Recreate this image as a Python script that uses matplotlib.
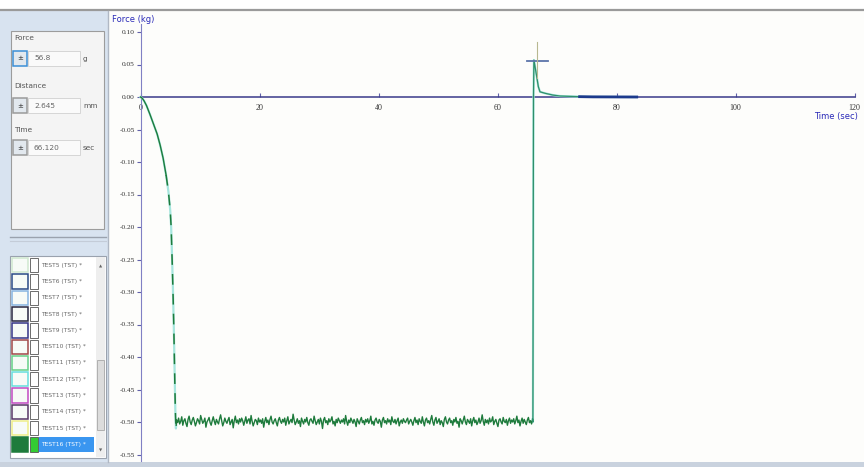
import matplotlib
matplotlib.use("Agg")
import matplotlib.patches as patches
import matplotlib.pyplot as plt
import numpy as np

# --- data (time in sec, force in kg) ---
descent_time = [0.0, 0.3, 0.6, 1.0, 1.6, 2.2, 2.8, 3.3, 3.8, 4.3, 4.7,
                5.0, 5.15, 5.3, 5.45, 5.6, 5.75, 5.85, 5.95, 6.0]
descent_force = [0.0, -0.002, -0.006, -0.013, -0.027, -0.042, -0.057,
                 -0.074, -0.094, -0.12, -0.146, -0.175, -0.2, -0.245,
                 -0.295, -0.355, -0.43, -0.48, -0.51, -0.505]

plateau_start = 6.05
plateau_end = 65.9
plateau_force_g = [
    -497, -501, -494, -503, -499, -492, -505, -498, -495, -502, -507, -496, -491, -500, -504, -497, -493, -499, -506, -501,
    -495, -498, -503, -490, -496, -502, -499, -494, -508, -500, -497, -493, -501, -505, -498, -492, -499, -504, -496, -500,
    -503, -495, -489, -498, -506, -501, -494, -499, -502, -497, -493, -504, -500, -496, -509, -498, -491, -501, -497, -503,
    -495, -500, -494, -498, -505, -499, -492, -502, -497, -495, -503, -490, -499, -506, -501, -496, -498, -504, -494, -500,
    -497, -502, -495, -508, -499, -493, -501, -497, -504, -496, -491, -500, -503, -498, -495, -501, -506, -497, -493, -499,
    -502, -496, -500, -494, -505, -498, -492, -503, -499, -496, -501, -488, -497, -504, -500, -495, -502, -498, -507, -494,
    -499, -503, -496, -500, -493, -501, -505, -497, -495, -499, -502, -491, -498, -504, -500, -496, -503, -494, -499, -510,
    -497, -493, -501, -498, -504, -495, -500, -497, -492, -503, -499, -506, -496, -501, -494, -498, -502, -497, -500, -495,
    -503, -490, -499, -505, -497, -501, -494, -498, -502, -496, -500, -507, -495, -499, -503, -497, -493, -501, -498, -504,
    -496, -500, -495, -502, -498, -491, -503, -499, -505, -497, -494, -500, -502, -496, -499, -508, -497, -493, -501, -498,
    -503, -495, -500, -497, -504, -492, -499, -501, -496, -503, -498, -494, -506, -500, -497, -502, -495, -499, -501, -497,
    -494, -503, -499, -496, -500, -505, -498, -493, -501, -497, -504, -495, -499, -502, -492, -500, -506, -497, -494, -501,
    -498, -503, -496, -490, -500, -505, -497, -493, -502, -499, -495, -504, -498, -501, -507, -496, -492, -500, -503, -497,
    -494, -501, -498, -505, -496, -500, -493, -502, -499, -508, -495, -498, -503, -497, -491, -500, -504, -496, -499, -502,
    -495, -506, -498, -493, -501, -497, -504, -500, -494, -502, -498, -489, -499, -505, -496, -501, -497, -503, -494, -500,
    -498, -492, -504, -499, -496, -502, -507, -497, -495, -500, -503, -493, -499, -501, -496, -505, -498, -494, -502, -497,
    -500, -495, -503, -498, -491, -501, -497, -506, -499, -494, -502, -496, -500, -504, -497, -493, -501, -498, -503, -496,
]

recovery_time = [65.95, 66.0, 66.05, 66.12, 66.6, 66.86, 67.14, 68.0,
                 69.3, 70.5, 73.8, 76.0, 83.4]
recovery_force = [-0.5, -0.25, 0.0, 0.0568, 0.031, 0.016, 0.008, 0.0057,
                  0.003, 0.0015, 0.0005, 0.0002, 0.0]

cursor_time = 66.120
cursor_force = 0.0568

y_ticks = [0.10, 0.05, 0.00, -0.05, -0.10, -0.15, -0.20, -0.25, -0.30,
           -0.35, -0.40, -0.45, -0.50, -0.55]
x_ticks = [0, 20, 40, 60, 80, 100, 120]

readout_labels = ["Force", "Distance", "Time"]
readout_values = ["56.8", "2.645", "66.120"]
readout_units = ["g", "mm", "sec"]

test_names = ["TEST5 (TST) *", "TEST6 (TST) *", "TEST7 (TST) *",
              "TEST8 (TST) *", "TEST9 (TST) *", "TEST10 (TST) *",
              "TEST11 (TST) *", "TEST12 (TST) *", "TEST13 (TST) *",
              "TEST14 (TST) *", "TEST15 (TST) *", "TEST16 (TST) *"]
test_colors = ["#cfe8cf", "#2a4a86", "#86b4e0", "#262640", "#343486",
               "#a04848", "#66d088", "#66dede", "#c24ac2", "#573766",
               "#eeee88", "#1e7b3c"]

plateau_time = np.linspace(plateau_start, plateau_end, len(plateau_force_g))
plateau_force = np.array(plateau_force_g) / 1000.0

fig = plt.figure(figsize=(8.64, 4.67), dpi=100)
fig.patch.set_facecolor("#fdfdfb")

# ---- UI chrome drawn in pixel coordinates ----
ui = fig.add_axes([0, 0, 1, 1], zorder=0)
ui.set_xlim(0, 864)
ui.set_ylim(467, 0)
ui.axis("off")

ui.add_patch(patches.Rectangle((0, 0), 864, 9, facecolor="white", edgecolor="none"))
ui.plot([0, 864], [10, 10], color="#9a9a9a", lw=1.6)
ui.add_patch(patches.Rectangle((0, 462), 864, 5, facecolor="#c9d2de", edgecolor="none"))
ui.add_patch(patches.Rectangle((0, 11), 108, 451, facecolor="#d8e3f0", edgecolor="none"))
ui.plot([108, 108], [11, 462], color="#b0b8c4", lw=1)

# readout group box
ui.add_patch(patches.Rectangle((11, 31), 93, 198, facecolor="#f4f4f4",
                               edgecolor="#9c9c9c", lw=0.8))
for i, (lab, val, unit) in enumerate(zip(readout_labels, readout_values, readout_units)):
    ty = [38, 86, 130][i]
    by = [51, 98, 140][i]
    ui.text(14, ty, lab, fontsize=5.3, color="#555555", va="center")
    edge = "#3c8fd6" if i == 0 else "#9a9a9a"
    ui.add_patch(patches.Rectangle((13, by), 14, 15, facecolor="#e2e8ee",
                                   edgecolor=edge, lw=1.1))
    ui.text(20, by + 7.5, "±", fontsize=5, color="#333333", ha="center", va="center")
    ui.add_patch(patches.Rectangle((28, by), 52, 15, facecolor="#fafafa",
                                   edgecolor="#d0d0d0", lw=0.6))
    ui.text(34, by + 7.5, val, fontsize=5.3, color="#666666", va="center")
    ui.text(83, by + 8.5, unit, fontsize=5.3, color="#555555", va="center")

# splitter
ui.plot([10, 106], [237, 237], color="#9aa2ae", lw=1)
ui.plot([10, 106], [241, 241], color="#c4ccd8", lw=0.8)

# test list box
ui.add_patch(patches.Rectangle((10, 256), 96, 202, facecolor="white",
                               edgecolor="#9aa2ae", lw=0.8))
row_h = 16.3
for i, (name, col) in enumerate(zip(test_names, test_colors)):
    y = 258 + i * row_h
    last = i == len(test_names) - 1
    ui.add_patch(patches.Rectangle((12, y), 16, row_h - 2,
                                   facecolor=col if last else "#f7fbf7",
                                   edgecolor=col, lw=1.1))
    ui.add_patch(patches.Rectangle((30, y), 8, row_h - 2,
                                   facecolor="#33cc33" if last else "white",
                                   edgecolor="#555555", lw=0.6))
    if last:
        ui.add_patch(patches.Rectangle((39, y), 55, row_h - 2,
                                       facecolor="#3a96f0", edgecolor="none"))
    ui.text(41, y + row_h / 2 - 1, name, fontsize=4.3,
            color="white" if last else "#666666", va="center")

# scrollbar
ui.add_patch(patches.Rectangle((96, 257), 9, 200, facecolor="#eeeeee", edgecolor="none"))
ui.add_patch(patches.Rectangle((97, 360), 7, 70, facecolor="#dcdcdc",
                               edgecolor="#a8a8a8", lw=0.6))
ui.text(100.5, 266, "▲", fontsize=3, color="#666666", ha="center", va="center")
ui.text(100.5, 450, "▼", fontsize=3, color="#666666", ha="center", va="center")

ui.text(112, 19, "Force (kg)", fontsize=6, color="#2a2ab8", va="center")
ui.text(836, 117, "Time (sec)", fontsize=6, color="#2a2ab8", ha="center", va="center")

# ---- the chart ----
px0, px_per_s = 140.5, 5.95
py0, px_per_kg = 97.0, 650.0
ax = fig.add_axes([110 / 864, 5 / 467, 754 / 864, 452 / 467], zorder=1)
ax.set_facecolor("none")
ax.set_xlim((110 - px0) / px_per_s, (864 - px0) / px_per_s)
ax.set_ylim(-(462 - py0) / px_per_kg, (py0 - 10) / px_per_kg)

for s in ["top", "right"]:
    ax.spines[s].set_visible(False)
ax.spines["left"].set_position(("data", 0))
ax.spines["left"].set_bounds(-0.56, 0.112)
ax.spines["left"].set_color("#8080c4")
ax.spines["bottom"].set_position(("data", 0))
ax.spines["bottom"].set_bounds(0, 120)
ax.spines["bottom"].set_color("#3a3a8a")
ax.spines["bottom"].set_linewidth(1.1)

ax.set_yticks(y_ticks)
ax.set_yticklabels([f"{v:.2f}" for v in y_ticks], fontsize=5.3,
                   family="Liberation Serif", color="#333333")
ax.tick_params(axis="y", direction="out", length=3, width=0.8,
               color="#6060a8", pad=1)
ax.set_xticks(x_ticks)
ax.set_xticklabels([str(v) for v in x_ticks], fontsize=5.8,
                   family="Liberation Serif", color="#333333")
ax.tick_params(axis="x", direction="in", length=3, width=0.8,
               color="#6060a8", pad=5)

green = "#1e7b3c"
cyan = "#a6e6de"

descent_time = np.array(descent_time)
descent_force = np.array(descent_force)
steep = descent_force <= -0.12
ax.plot(descent_time, descent_force, color=cyan, lw=1.6, zorder=3)
ax.plot(descent_time[~steep | (descent_force == -0.12)],
        descent_force[~steep | (descent_force == -0.12)],
        color=green, lw=1.0, zorder=4)
ax.plot(descent_time[steep], descent_force[steep], color=green, lw=1.1,
        linestyle=(0, (7, 6)), zorder=4)
ax.plot([descent_time[-1], plateau_time[0]], [descent_force[-1], plateau_force[0]],
        color=green, lw=1.0, zorder=4)
ax.plot(plateau_time, plateau_force, color=green, lw=1.0, zorder=4)
ax.plot(np.r_[plateau_time[-1], recovery_time],
        np.r_[plateau_force[-1], recovery_force],
        color=cyan, lw=1.6, zorder=3)
ax.plot(np.r_[plateau_time[-1], recovery_time],
        np.r_[plateau_force[-1], recovery_force],
        color="#2f8f6a", lw=0.9, zorder=4)

tail = np.array(recovery_time) >= 73.8
ax.plot(np.array(recovery_time)[tail], np.array(recovery_force)[tail],
        color="#1c3a8c", lw=2.0, zorder=4)

# cursor cross
ax.plot([cursor_time + 0.6 - 1.7, cursor_time + 0.6 + 1.7], [cursor_force - 0.002] * 2,
        color="#5c74aa", lw=1.3, zorder=5)
ax.plot([cursor_time + 0.6] * 2, [cursor_force - 0.027, cursor_force + 0.028],
        color="#b8b890", lw=0.8, zorder=5)

fig.savefig("out.png", dpi=100)
